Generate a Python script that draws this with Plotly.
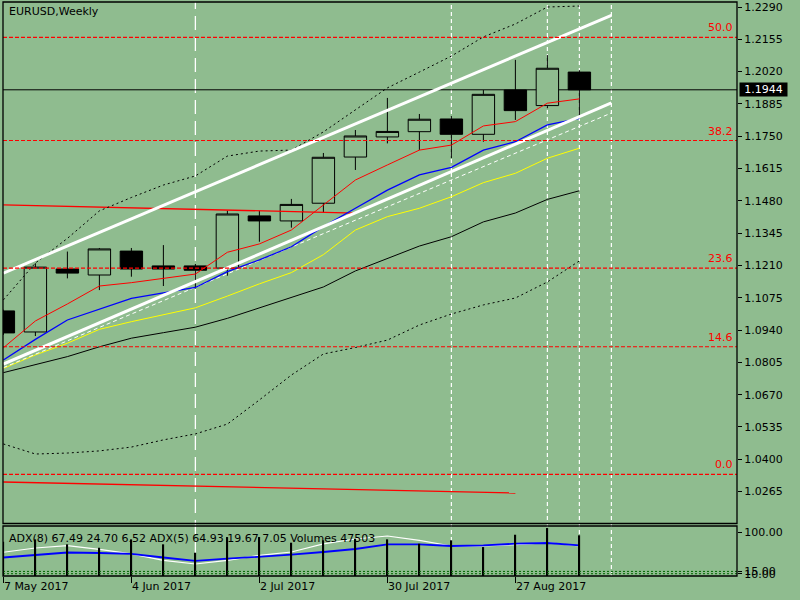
import plotly.graph_objects as go

BG = "#8FBC8F"
FONT = "DejaVu Sans"

# weekly bars, EURUSD
weeks = ["2017-05-07", "2017-05-14", "2017-05-21", "2017-05-28", "2017-06-04",
         "2017-06-11", "2017-06-18", "2017-06-25", "2017-07-02", "2017-07-09",
         "2017-07-16", "2017-07-23", "2017-07-30", "2017-08-06", "2017-08-13",
         "2017-08-20", "2017-08-27", "2017-09-03", "2017-09-10"]
open_price = [1.1020, 1.0932, 1.1195, 1.1170, 1.1270, 1.1208, 1.1208, 1.1199, 1.1417, 1.1396,
              1.1470, 1.1663, 1.1747, 1.1769, 1.1822, 1.1758, 1.1943, 1.1878, 1.2018]
high_price = [1.1025, 1.1219, 1.1268, 1.1283, 1.1283, 1.1295, 1.1216, 1.1439, 1.1439, 1.1488,
              1.1680, 1.1776, 1.1910, 1.1843, 1.1834, 1.1943, 1.2069, 1.2089, 1.2026]
low_price = [1.0920, 1.0915, 1.1156, 1.1107, 1.1163, 1.1124, 1.1114, 1.1167, 1.1309, 1.1368,
             1.1430, 1.1609, 1.1720, 1.1692, 1.1659, 1.1727, 1.1818, 1.1867, 1.1830]
close_price = [1.0928, 1.1203, 1.1178, 1.1279, 1.1195, 1.1195, 1.1190, 1.1425, 1.1396, 1.1465,
               1.1662, 1.1751, 1.1770, 1.1821, 1.1758, 1.1925, 1.1857, 1.2034, 1.1944]

# moving averages
ma_red = [1.0866, 1.0978, 1.1049, 1.1124, 1.1138, 1.1156, 1.1174, 1.1265, 1.1300, 1.1358,
          1.1463, 1.1567, 1.1630, 1.1692, 1.1713, 1.1793, 1.1811, 1.1888, 1.1906]
ma_blue = [1.0815, 1.0901, 1.0982, 1.1028, 1.1072, 1.1095, 1.1118, 1.1184, 1.1233, 1.1288,
           1.1372, 1.1449, 1.1525, 1.1588, 1.1620, 1.1692, 1.1727, 1.1797, 1.1825]
ma_yellow = [1.0780, 1.0836, 1.0885, 1.0943, 1.0975, 1.1003, 1.1033, 1.1082, 1.1133, 1.1180,
             1.1255, 1.1358, 1.1414, 1.1449, 1.1497, 1.1556, 1.1595, 1.1658, 1.1700]
ma_black = [1.0762, 1.0794, 1.0829, 1.0870, 1.0906, 1.0929, 1.0952, 1.0989, 1.1033, 1.1074,
            1.1120, 1.1187, 1.1239, 1.1291, 1.1330, 1.1392, 1.1429, 1.1486, 1.1522]

# envelope bands (dotted)
band_upper = [1.1066, 1.1220, 1.1323, 1.1438, 1.1494, 1.1546, 1.1584, 1.1667, 1.1688, 1.1692,
              1.1768, 1.1860, 1.1952, 1.2018, 1.2085, 1.2165, 1.2219, 1.2290, 1.2294]
band_lower = [1.0464, 1.0422, 1.0426, 1.0435, 1.0451, 1.0481, 1.0506, 1.0547, 1.0648, 1.0752,
              1.0840, 1.0867, 1.0898, 1.0961, 1.1007, 1.1045, 1.1074, 1.1141, 1.1229]

# sub window: ADX + volumes
adx_white = [56.8, 66.2, 71.3, 63.3, 53.3, 39.3, 31.2, 39.3, 50.2, 57.4,
             75.0, 85.8, 92.4, 83.0, 70.5, 70.5, 73.4, 77.7, 70.5]
adx_blue = [45.4, 50.2, 56.3, 55.2, 53.3, 45.4, 38.0, 42.8, 46.5, 51.5,
            57.4, 64.0, 74.2, 74.2, 70.5, 72.1, 75.5, 77.1, 72.1]
volumes = [40000, 42800, 37000, 33000, 42800, 37000, 27200, 45500, 45500, 38900,
           41700, 43500, 42800, 37700, 41700, 33800, 48200, 56000, 47503]
adx_levels = [10, 15, 100]

# objects drawn on the chart
channel_x = ["2017-05-07", "2017-09-17"]
channel_upper = [1.1178, 1.2255]
channel_lower = [1.0798, 1.1889]
channel_dashed = [1.0783, 1.1847]
red_line_top_x = ["2017-05-07", "2017-07-23"]
red_line_top_y = [1.1463, 1.1429]
red_line_bot_x = ["2017-05-07", "2017-08-27"]
red_line_bot_y = [1.0305, 1.0259]
vline_long = ["2017-06-18"]
vlines_short = ["2017-08-13", "2017-09-03", "2017-09-10", "2017-09-17"]

fib_low, fib_high = 1.0337, 1.3989
fib_levels = [0.0, 14.6, 23.6, 38.2, 50.0]
last_price = 1.1944

date_ticks = ["2017-05-07", "2017-06-04", "2017-07-02", "2017-07-30", "2017-08-27"]
date_labels = ["7 May 2017", "4 Jun 2017", "2 Jul 2017", "30 Jul 2017", "27 Aug 2017"]


def add_line(fig, x, y, color, width=1, dash="solid", yaxis="y"):
    fig.add_trace(
        go.Scatter(x=x, y=y, mode="lines", yaxis=yaxis, hoverinfo="skip",
                   showlegend=False, line=dict(color=color, width=width, dash=dash))
    )


fig = go.Figure()

fig.add_trace(
    go.Candlestick(
        x=weeks, open=open_price, high=high_price, low=low_price, close=close_price,
        increasing=dict(line=dict(color="black", width=1), fillcolor=BG),
        decreasing=dict(line=dict(color="black", width=1), fillcolor="black"),
        whiskerwidth=0, showlegend=False, hoverinfo="skip",
    )
)

add_line(fig, red_line_top_x, red_line_top_y, "red", 1.3)
add_line(fig, red_line_bot_x, red_line_bot_y, "red", 1.3)
add_line(fig, weeks, band_upper, "black", 1, "2px,3px")
add_line(fig, weeks, band_lower, "black", 1, "2px,3px")
add_line(fig, weeks, ma_black, "black", 1)
add_line(fig, weeks, ma_yellow, "yellow", 1)
add_line(fig, channel_x, channel_dashed, "white", 1, "4px,3px")
add_line(fig, weeks, ma_blue, "blue", 1.3)
add_line(fig, channel_x, channel_upper, "white", 3)
add_line(fig, channel_x, channel_lower, "white", 3)
add_line(fig, weeks, ma_red, "red", 1)

# sub window
add_line(fig, weeks, adx_white, "white", 1.2, yaxis="y2")
add_line(fig, weeks, adx_blue, "blue", 1.8, yaxis="y2")
fig.add_trace(
    go.Bar(x=weeks, y=volumes, yaxis="y3", width=28e6, marker=dict(color="black", line_width=0),
           showlegend=False, hoverinfo="skip")
)

shapes = []
for d in vline_long:
    shapes.append(dict(type="line", xref="x", yref="paper", x0=d, x1=d, y0=0, y1=1,
                       line=dict(color="white", width=1.3, dash="14px,7px"), layer="below"))
for d in vlines_short:
    shapes.append(dict(type="line", xref="x", yref="paper", x0=d, x1=d, y0=0, y1=1,
                       line=dict(color="white", width=1.2, dash="4px,3px"), layer="below"))

annotations = []
for lvl in fib_levels:
    price = fib_low + lvl / 100 * (fib_high - fib_low)
    shapes.append(dict(type="line", xref="x domain", yref="y", x0=0, x1=1, y0=price, y1=price,
                       line=dict(color="red", width=1.2, dash="4px,2px"), layer="above"))
    annotations.append(dict(xref="x domain", yref="y", x=0.997, y=price, text=f"{lvl:.1f}",
                            xanchor="right", yanchor="bottom", showarrow=False, yshift=1,
                            font=dict(family=FONT, size=11, color="red")))

shapes.append(dict(type="line", xref="x domain", yref="y", x0=0, x1=1, y0=last_price,
                   y1=last_price, line=dict(color="black", width=1), layer="below"))
for lvl in adx_levels[:2]:
    shapes.append(dict(type="line", xref="x domain", yref="y2", x0=0, x1=1, y0=lvl, y1=lvl,
                       line=dict(color="#006400", width=1, dash="2px,2px"), layer="above"))

# panel frames
main_bottom = 52.5 / 574
sub_top = 50 / 574
shapes.append(dict(type="rect", xref="paper", yref="paper", x0=0, x1=1, y0=main_bottom, y1=1,
                   line=dict(color="black", width=1.3), layer="above"))
shapes.append(dict(type="rect", xref="paper", yref="paper", x0=0, x1=1, y0=0, y1=sub_top,
                   line=dict(color="black", width=1.3), layer="above"))

annotations.append(dict(xref="paper", yref="y", x=1, y=last_price, text=f"{last_price:.4f}",
                        xanchor="left", yanchor="middle", showarrow=False, xshift=2,
                        width=47, height=13, borderpad=0, bgcolor="black",
                        font=dict(family=FONT, size=11, color="white")))
annotations.append(dict(xref="paper", yref="paper", x=0.0054, y=0.983, text="EURUSD,Weekly",
                        xanchor="left", yanchor="middle", showarrow=False,
                        font=dict(family=FONT, size=11, color="black")))
annotations.append(dict(xref="paper", yref="paper", x=0.0054, y=0.066,
                        text="ADX(8) 67.49 24.70 6.52 ADX(5) 64.93 19.67 7.05 Volumes 47503",
                        xanchor="left", yanchor="middle", showarrow=False,
                        font=dict(family=FONT, size=11, color="black")))

fig.update_layout(
    width=800,
    height=600,
    margin=dict(l=3, r=63, t=2, b=24),
    paper_bgcolor=BG,
    plot_bgcolor=BG,
    boxgap=0.3,
    boxgroupgap=0,
    showlegend=False,
    font=dict(family=FONT, size=11, color="black"),
    shapes=shapes,
    annotations=annotations,
    xaxis=dict(
        anchor="y2",
        range=["2017-05-06 22:00", "2017-10-14 11:30"],
        rangeslider=dict(visible=False),
        tickvals=date_ticks,
        ticktext=date_labels,
        ticks="outside",
        ticklen=6,
        tickcolor="black",
        ticklabelposition="outside right",
        showgrid=False,
        zeroline=False,
        showline=False,
    ),
    yaxis=dict(
        domain=[main_bottom, 1],
        range=[1.01316, 1.23109],
        side="right",
        tick0=1.0265,
        dtick=0.0135,
        tickformat=".4f",
        ticks="outside",
        ticklen=4,
        tickcolor="black",
        showgrid=False,
        zeroline=False,
    ),
    yaxis2=dict(
        domain=[0, sub_top],
        range=[5, 114.2],
        side="right",
        tickvals=adx_levels,
        ticktext=[f"{v:.2f}" for v in adx_levels],
        ticks="outside",
        ticklen=4,
        tickcolor="black",
        showgrid=False,
        zeroline=False,
    ),
    yaxis3=dict(overlaying="y2", range=[0, 58400], visible=False),
)

# the page body has a default 8px margin; drop it so the 800x600 figure fills the window
fig.write_html("out.html", config={"displayModeBar": False},
               post_script="document.body.style.margin = '0';")
